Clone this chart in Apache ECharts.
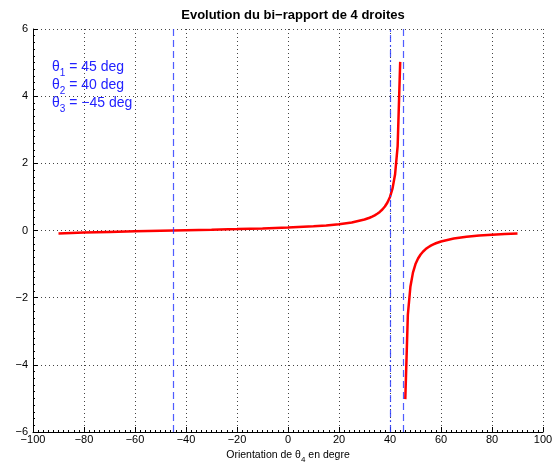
<!DOCTYPE html>
<html>
<head>
<meta charset="utf-8">
<script src="https://cdn.jsdelivr.net/npm/echarts@6/dist/echarts.min.js"></script>
<style>
  html, body { margin: 0; padding: 0; background: #fff; }
  #chart { width: 556px; height: 462px; }
</style>
</head>
<body>
<div id="chart"></div>
<script>
// branche gauche (theta4 < 45)
const leftAngles = [-90, -80, -70, -60, -50, -45, -40, -30, -20, -10, 0, 10, 15, 20, 25, 30, 32, 33, 34, 35, 36, 37, 38, 39, 40, 41, 42, 43, 44]
const leftValues = [-0.088, -0.061, -0.041, -0.024, -0.008, 0, 0.008, 0.024, 0.041, 0.061, 0.088, 0.125, 0.152, 0.188, 0.241, 0.327, 0.380, 0.413, 0.452, 0.498, 0.554, 0.625, 0.715, 0.835, 1.0, 1.255, 1.675, 2.51, 5.02]
// branche droite (theta4 > 45)
const rightAngles = [46, 47, 48, 49, 50, 51, 52, 53, 54, 55, 56, 57, 58, 60, 65, 70, 75, 80, 85, 90]
const rightValues = [-5.02, -2.51, -1.675, -1.255, -1.0, -0.835, -0.715, -0.625, -0.554, -0.498, -0.452, -0.413, -0.380, -0.327, -0.241, -0.188, -0.152, -0.125, -0.105, -0.088]
// droites verticales theta3, theta2, theta1
const guideAngles = [-45, 40, 45]
const guideDash = [[7, 4], [7, 3, 2, 3], [7, 4]]

const font = 'Liberation Sans, Arial, sans-serif'
const minus = v => String(v).replace('-', '\u2212')

const myChart = echarts.init(document.getElementById('chart'))

const axisCommon = {
  axisLine: { show: true, onZero: false, lineStyle: { color: '#000', width: 1 } },
  axisTick: { show: true, inside: true, length: 5, lineStyle: { color: '#000' } },
  minorTick: { show: true, splitNumber: 10, length: 2, lineStyle: { color: '#000' } },
  splitLine: { show: true, lineStyle: { color: '#444', type: [1, 3], width: 1 } },
  axisLabel: { color: '#000', fontFamily: font, fontSize: 11, formatter: minus }
}

myChart.setOption({
  animation: false,
  title: {
    text: 'Evolution du bi\u2212rapport de 4 droites',
    left: 288,
    textAlign: 'center',
    top: 4,
    textStyle: { fontFamily: font, fontSize: 13, fontWeight: 'bold', color: '#000' }
  },
  grid: { left: 33, right: 13, top: 29, bottom: 30, outerBoundsMode: 'none', containLabel: false },
  xAxis: Object.assign({}, axisCommon, {
    type: 'value',
    min: -100,
    max: 100,
    interval: 20,
    axisLabel: Object.assign({}, axisCommon.axisLabel, { margin: 2 }),
    name: 'Orientation de \u03b8{sub|4} en degre',
    nameLocation: 'middle',
    nameGap: 12,
    nameTextStyle: {
      fontFamily: font, fontSize: 10.5, color: '#000',
      rich: { sub: { fontFamily: font, fontSize: 8, color: '#000', padding: [8, 0, 0, 0] } }
    }
  }),
  yAxis: Object.assign({}, axisCommon, {
    type: 'value',
    min: -6,
    max: 6,
    interval: 2,
    axisLabel: Object.assign({}, axisCommon.axisLabel, { margin: 5 })
  }),
  graphic: [
    { line: '1', sign: '= 45 deg', top: 60 },
    { line: '2', sign: '= 40 deg', top: 78 },
    { line: '3', sign: '= \u221245 deg', top: 96 }
  ].map(t => ({
    type: 'text',
    left: 52,
    top: t.top,
    style: {
      text: '\u03b8{sub|' + t.line + '} ' + t.sign,
      fill: '#2222ff',
      font: '14px ' + font,
      rich: { sub: { fontSize: 10, fill: '#2222ff', padding: [13, 0, 0, 0] } }
    }
  })),
  series: [
    {
      type: 'line',
      data: leftAngles.map((a, i) => [a, leftValues[i]]),
      showSymbol: false,
      lineStyle: { color: '#ff0000', width: 2.5 },
      markLine: {
        silent: true,
        symbol: 'none',
        label: { show: false },
        data: guideAngles.map((a, i) => ({
          xAxis: a,
          lineStyle: { color: '#3040ff', width: 1.2, type: guideDash[i], opacity: 0.85 }
        }))
      },
      z: 3
    },
    {
      type: 'line',
      data: rightAngles.map((a, i) => [a, rightValues[i]]),
      showSymbol: false,
      lineStyle: { color: '#ff0000', width: 2.5 },
      z: 3
    }
  ]
})
</script>
</body>
</html>
